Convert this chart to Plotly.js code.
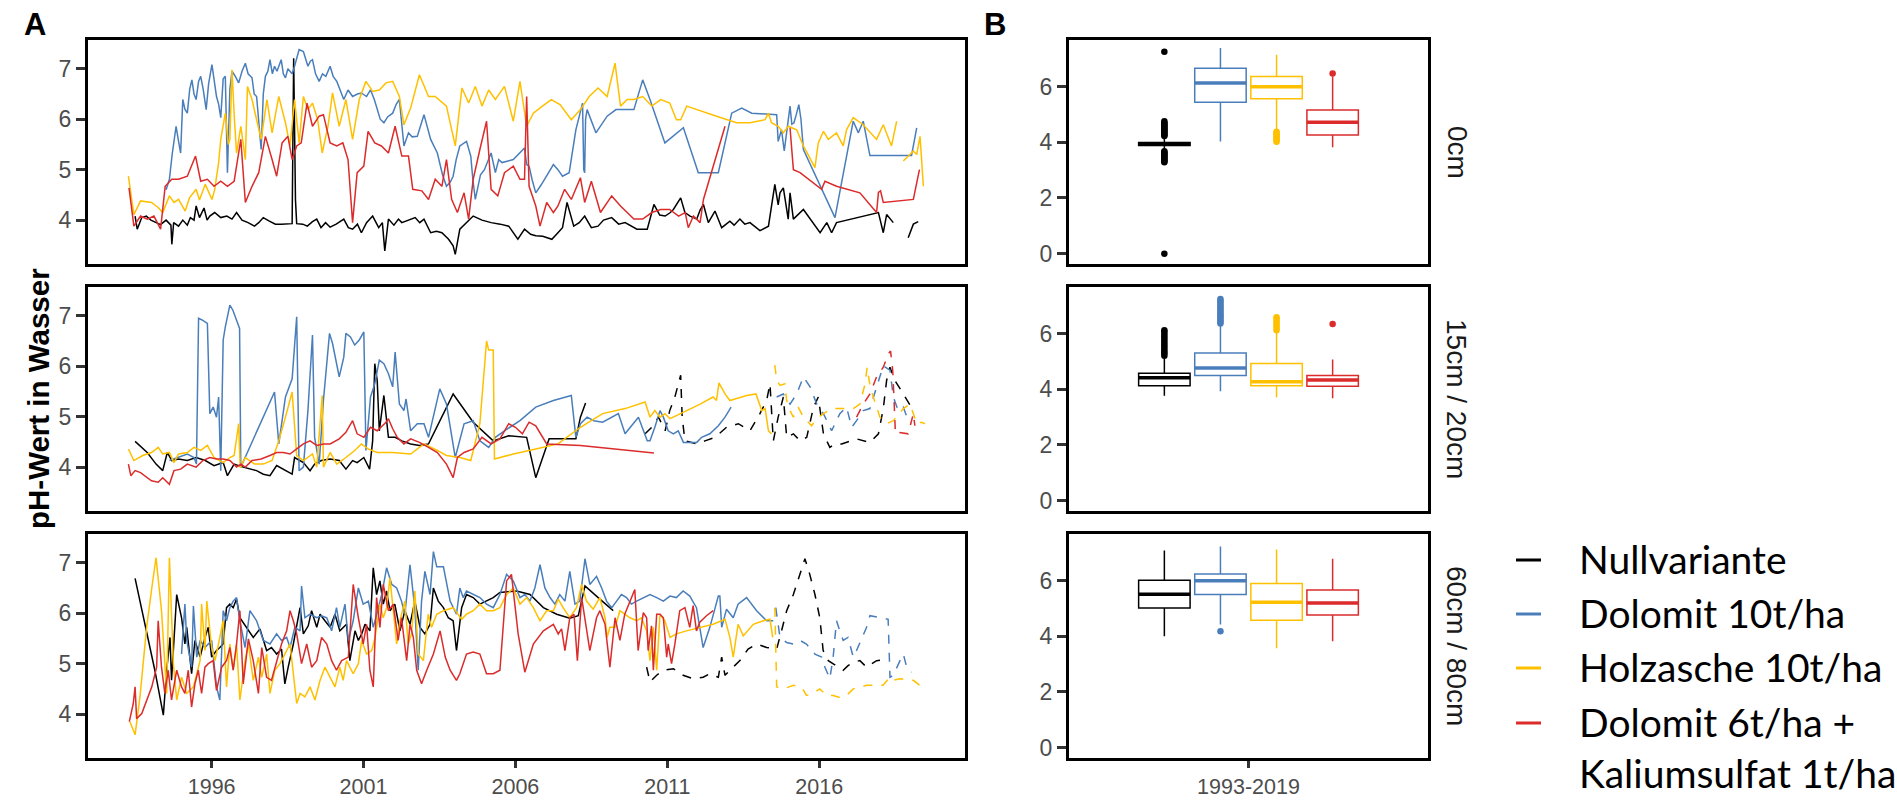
<!DOCTYPE html>
<html><head><meta charset="utf-8">
<script src="https://cdn.plot.ly/plotly-3.0.1.min.js"></script>
<style>html,body{margin:0;padding:0;background:#fff}#chart{width:1897px;height:800px}</style>
</head><body><div id="chart"></div>
<script>
// ---------- names / categories ----------
const treatments = ['Nullvariante','Dolomit 10t/ha','Holzasche 10t/ha','Dolomit 6t/ha +<br>Kaliumsulfat 1t/ha'];
const colors = ['#000000','#4A7EBB','#FFC000','#DB2B2B'];
const depths = ['0cm','15cm / 20cm','60cm / 80cm'];
const yearTicks = [1996,2001,2006,2011,2016];
const boxTick = ['1993-2019'];

// ---------- A: time series (decimal year, pH) ----------
// depth 0cm
const null_0 = [[1993.48,4.08],[1993.55,3.82],[1993.7,4.05],[1993.85,4.08],[1994.0,4.0],[1994.17,3.95],[1994.32,3.91],[1994.5,4.0],[1994.66,3.9],[1994.69,3.52],[1994.75,3.95],[1994.91,3.88],[1995.05,4.0],[1995.2,3.9],[1995.3,4.05],[1995.42,4.0],[1995.49,4.28],[1995.6,4.05],[1995.75,4.24],[1995.85,4.0],[1995.94,4.08],[1996.1,4.15],[1996.3,4.05],[1996.5,4.08],[1996.67,4.02],[1996.82,4.15],[1997.0,4.0],[1997.2,3.95],[1997.41,3.88],[1997.55,3.95],[1997.7,4.05],[1997.9,3.98],[1998.1,3.92],[1998.29,3.92],[1998.5,3.92],[1998.65,3.93],[1998.70,7.21],[1998.76,4.4],[1998.8,3.93],[1999.0,3.92],[1999.15,3.88],[1999.32,3.97],[1999.46,4.02],[1999.6,3.85],[1999.75,3.95],[1999.9,3.86],[2000.1,3.92],[2000.35,4.02],[2000.5,3.85],[2000.64,3.82],[2000.8,3.92],[2000.93,3.75],[2001.1,3.95],[2001.3,4.08],[2001.5,3.85],[2001.62,3.95],[2001.70,3.39],[2001.82,4.02],[2002.0,3.9],[2002.15,4.02],[2002.26,3.95],[2002.5,4.0],[2002.7,4.05],[2002.85,3.95],[2002.99,4.02],[2003.21,3.75],[2003.4,3.78],[2003.58,3.75],[2003.8,3.62],[2003.95,3.49],[2004.02,3.32],[2004.17,3.82],[2004.4,3.95],[2004.61,4.08],[2004.9,4.0],[2005.2,3.95],[2005.5,3.92],[2005.78,3.88],[2006.08,3.62],[2006.30,3.82],[2006.5,3.72],[2006.67,3.69],[2006.9,3.68],[2007.03,3.65],[2007.2,3.62],[2007.40,3.75],[2007.55,3.85],[2007.70,4.35],[2007.92,3.88],[2008.1,3.95],[2008.28,4.08],[2008.5,3.85],[2008.72,3.88],[2008.9,4.0],[2009.17,4.05],[2009.4,3.92],[2009.61,3.95],[2010.0,3.82],[2010.34,3.82],[2010.56,4.31],[2010.75,4.1],[2010.93,4.08],[2011.1,4.15],[2011.2,4.21],[2011.44,4.44],[2011.58,4.15],[2011.75,4.08],[2011.97,4.02],[2012.08,4.2],[2012.19,4.31],[2012.35,3.95],[2012.57,4.18],[2012.79,3.85],[2013.06,3.98],[2013.2,3.9],[2013.39,4.02],[2013.55,3.92],[2013.72,3.95],[2014.05,3.79],[2014.33,3.88],[2014.54,4.71],[2014.65,4.3],[2014.71,4.54],[2014.82,4.64],[2014.98,4.02],[2015.04,4.54],[2015.15,4.02],[2015.48,4.21],[2015.70,4.02],[2016.03,3.75],[2016.25,3.95],[2016.41,3.75],[2016.57,3.95],[2017.95,4.15],[2018.11,3.75],[2018.22,4.11],[2018.44,3.95],[null,null],[2018.93,3.65],[2019.10,3.92],[2019.26,3.97]];
const dolo_0 = [[1994.50,4.6],[1994.61,4.81],[1994.7,5.3],[1994.83,5.86],[1994.9,5.6],[1994.98,5.33],[1995.05,6.39],[1995.12,6.2],[1995.20,6.12],[1995.28,6.6],[1995.35,6.78],[1995.42,6.5],[1995.49,6.39],[1995.57,6.75],[1995.64,6.85],[1995.72,6.6],[1995.82,6.19],[1995.9,6.7],[1996.01,7.08],[1996.08,6.8],[1996.16,6.45],[1996.23,6.3],[1996.30,6.03],[1996.38,6.8],[1996.45,6.85],[1996.52,4.94],[1996.60,6.6],[1996.67,6.95],[1996.78,6.85],[1996.89,6.72],[1997.0,6.95],[1997.11,7.11],[1997.2,6.9],[1997.33,6.82],[1997.40,6.5],[1997.48,6.45],[1997.55,6.0],[1997.63,5.40],[1997.70,6.5],[1997.77,6.85],[1997.85,6.95],[1997.92,7.18],[1998.0,6.9],[1998.07,7.05],[1998.15,6.95],[1998.29,7.18],[1998.36,6.9],[1998.43,6.82],[1998.51,7.0],[1998.58,6.95],[1998.65,6.9],[1998.73,7.05],[1998.80,7.2],[1998.88,7.38],[1999.02,7.34],[1999.10,7.2],[1999.17,7.05],[1999.25,7.15],[1999.32,7.18],[1999.42,6.9],[1999.54,6.75],[1999.65,6.9],[1999.76,6.85],[1999.90,7.05],[2000.0,6.85],[2000.12,6.75],[2000.25,6.55],[2000.35,6.39],[2000.49,6.58],[2000.64,6.45],[2000.8,6.5],[2000.93,6.52],[2001.1,6.45],[2001.23,6.58],[2001.35,6.4],[2001.45,6.19],[2001.55,6.0],[2001.67,5.93],[2001.8,6.05],[2001.96,6.12],[2002.08,6.3],[2002.18,6.39],[2002.33,5.47],[2002.48,5.73],[2002.6,5.65],[2002.77,5.66],[2002.99,6.09],[2003.21,5.6],[2003.43,5.33],[2003.6,4.9],[2003.73,4.67],[2003.85,4.75],[2003.95,4.87],[2004.05,5.2],[2004.17,5.47],[2004.39,5.56],[2004.53,5.27],[2004.60,4.8],[2004.68,4.41],[2004.85,4.9],[2004.98,5.0],[2005.20,5.33],[2005.34,4.94],[2005.45,5.2],[2005.56,5.14],[2005.93,5.20],[2006.30,5.43],[2006.37,5.1],[2006.45,5.07],[2006.55,4.8],[2006.67,4.54],[2006.85,4.7],[2007.03,4.87],[2007.25,5.10],[2007.4,5.0],[2007.55,4.87],[2007.77,4.94],[2007.99,5.79],[2008.21,6.32],[2008.25,5.0],[2008.28,4.94],[2008.31,6.0],[2008.36,6.19],[2008.65,5.73],[2009.02,6.06],[2009.31,6.19],[2009.61,6.19],[2009.90,6.19],[2010.19,6.78],[2010.43,6.39],[2010.92,5.53],[2011.53,5.83],[2012.02,4.94],[2012.68,4.94],[2013.12,6.12],[2013.45,6.22],[2013.78,6.12],[2014.60,6.09],[2014.65,5.56],[2014.76,5.79],[2014.85,5.37],[2014.95,5.8],[2015.04,6.26],[2015.10,5.9],[2015.17,5.93],[2015.25,6.1],[2015.33,6.29],[2015.40,6.0],[2015.48,5.40],[2016.52,4.05],[2017.12,5.96],[2017.29,5.73],[2017.45,5.96],[2017.67,5.28],[2019.04,5.28],[2019.21,5.83]];
const holz_0 = [[1993.26,4.87],[1993.44,4.11],[1993.66,4.38],[1994.02,4.35],[1994.24,4.25],[1994.39,4.15],[1994.61,4.48],[1994.76,4.35],[1994.91,4.41],[1995.13,4.18],[1995.27,4.44],[1995.49,4.61],[1995.6,4.4],[1995.79,4.71],[1996.01,4.41],[1996.1,4.6],[1996.23,5.14],[1996.30,5.6],[1996.45,6.12],[1996.55,5.5],[1996.60,5.60],[1996.67,6.98],[1996.75,6.0],[1996.82,5.33],[1996.96,5.86],[1997.11,5.20],[1997.18,6.65],[1997.33,6.39],[1997.48,5.99],[1997.63,5.60],[1997.82,6.39],[1997.99,5.73],[1998.21,6.45],[1998.43,5.93],[1998.58,5.47],[1998.73,6.39],[1998.88,5.53],[1999.02,6.45],[1999.17,6.19],[1999.32,6.32],[1999.49,5.99],[1999.64,5.33],[1999.83,5.86],[1999.98,6.52],[2000.2,5.86],[2000.42,6.39],[2000.64,5.60],[2000.86,6.39],[2001.08,6.75],[2001.30,6.55],[2001.52,6.58],[2001.74,6.72],[2001.96,6.75],[2002.18,6.45],[2002.33,5.89],[2002.55,6.22],[2002.84,6.88],[2003.14,6.45],[2003.36,6.45],[2003.73,6.26],[2004.02,5.47],[2004.24,6.62],[2004.46,6.32],[2004.68,6.65],[2004.90,6.26],[2005.12,6.58],[2005.34,6.39],[2005.64,6.65],[2005.93,5.96],[2006.15,6.75],[2006.37,5.86],[2006.59,6.12],[2006.89,6.26],[2007.18,6.39],[2007.47,6.29],[2007.84,5.99],[2008.14,6.19],[2008.43,6.45],[2008.72,6.62],[2009.02,6.45],[2009.28,7.11],[2009.46,6.26],[2009.68,6.39],[2009.90,6.39],[2010.19,6.45],[2010.49,6.26],[2010.78,6.39],[2011.08,6.32],[2011.30,5.99],[2011.44,5.99],[2011.64,6.26],[2011.97,6.19],[2012.62,6.06],[2013.28,5.93],[2013.72,5.93],[2014.22,5.99],[2014.33,6.12],[2014.43,5.93],[2014.65,5.86],[2014.82,5.73],[2014.98,5.86],[2015.26,5.79],[2015.48,5.47],[2015.86,5.04],[2015.97,5.53],[2016.14,5.76],[2016.30,5.60],[2016.57,5.73],[2016.79,5.47],[2016.90,5.79],[2017.12,6.03],[2017.45,5.89],[2017.89,5.60],[2018.11,5.89],[2018.38,5.47],[2018.55,5.96],[null,null],[2018.77,5.17],[2019.10,5.37],[2019.21,5.3],[2019.32,5.66],[2019.43,4.67]];
const kali_0 = [[1993.28,4.64],[1993.44,3.88],[1993.66,4.08],[1993.88,4.02],[1994.10,4.08],[1994.32,3.82],[1994.47,4.67],[1994.69,4.81],[1994.91,4.81],[1995.20,4.87],[1995.47,5.27],[1995.64,4.77],[1995.86,4.81],[1996.08,4.67],[1996.30,4.77],[1996.52,4.67],[1996.74,4.77],[1996.96,5.60],[1997.11,4.35],[1997.33,4.67],[1997.55,4.94],[1997.77,5.66],[1997.99,5.20],[1998.14,4.87],[1998.32,5.53],[1998.51,5.66],[1998.65,5.20],[1998.80,5.47],[1998.95,5.53],[1999.14,6.32],[1999.32,5.86],[1999.54,6.06],[1999.68,6.09],[1999.90,5.53],[2000.12,5.47],[2000.32,5.53],[2000.49,5.20],[2000.64,3.95],[2000.79,4.94],[2001.01,5.07],[2001.15,5.76],[2001.37,5.53],[2001.59,5.47],[2001.82,5.33],[2002.04,5.86],[2002.26,5.27],[2002.48,5.27],[2002.62,4.61],[2002.92,4.58],[2003.14,4.41],[2003.36,4.81],[2003.58,4.67],[2003.73,5.20],[2003.90,4.41],[2004.09,4.15],[2004.31,4.54],[2004.46,4.02],[2004.61,4.81],[2004.83,5.40],[2005.05,5.96],[2005.20,4.61],[2005.42,4.48],[2005.64,4.94],[2005.93,5.07],[2006.15,4.81],[2006.30,4.81],[2006.37,6.45],[2006.45,4.67],[2006.67,4.28],[2006.81,3.88],[2007.03,4.35],[2007.25,4.15],[2007.40,4.28],[2007.62,4.61],[2007.84,4.41],[2008.14,4.84],[2008.28,4.35],[2008.50,4.77],[2008.80,4.15],[2009.17,4.48],[2009.46,4.28],[2009.90,4.02],[2010.19,4.02],[2010.49,4.15],[2010.78,4.21],[2011.08,4.21],[2011.37,4.08],[2011.59,4.15],[2011.69,3.85],[2011.86,4.08],[2012.08,3.95],[2012.19,4.41],[2012.90,5.86],[null,null],[2015.04,5.83],[2015.15,5.00],[2015.37,4.94],[2016.08,4.61],[2016.19,4.77],[2016.57,4.67],[2017.34,4.54],[2017.89,4.15],[2017.95,4.55],[2018.02,4.58],[2018.11,4.35],[2019.10,4.41],[2019.30,5.00]];

// depth 15cm / 20cm (the "b" arrays = later period, drawn dashed)
const null_1 = [[1993.48,4.51],[1993.88,4.29],[1994.17,4.06],[1994.39,3.93],[1994.54,4.29],[1994.69,4.13],[1994.91,4.16],[1995.20,4.13],[1995.49,4.19],[1995.79,4.13],[1996.08,4.03],[1996.38,4.09],[1996.52,3.83],[1996.74,4.06],[1997.04,4.0],[1997.26,3.96],[1997.48,3.93],[1997.70,3.86],[1997.92,3.83],[1998.14,4.03],[1998.43,3.93],[1998.65,3.86],[1998.73,4.19],[1999.02,4.09],[1999.24,3.93],[1999.39,4.06],[1999.61,4.13],[1999.90,4.16],[2000.20,4.13],[2000.42,3.96],[2000.64,4.13],[2000.79,4.09],[2001.01,4.19],[2001.20,3.96],[2001.30,4.52],[2001.37,6.05],[2001.45,5.72],[2001.52,4.72],[2001.67,5.42],[2001.82,4.59],[2002.04,4.59],[2002.26,4.52],[2002.55,4.46],[2002.84,4.43],[2003.14,4.46],[2003.95,5.45],[2004.61,4.89],[2005.27,4.52],[2005.78,4.62],[2006.37,4.59],[2006.67,3.79],[2007.11,4.56],[2007.55,4.56],[2007.99,4.56],[2008.14,4.99],[2008.31,5.27]];
const null_1b = [[2010.27,4.66],[2010.49,4.79],[2010.71,4.99],[2010.93,4.72],[2011.08,5.12],[2011.25,5.39],[2011.44,5.82],[2011.49,4.99],[2011.58,4.52],[2011.97,4.46],[2012.24,4.52],[2012.57,4.59],[2012.95,4.79],[2013.34,4.86],[2013.72,4.72],[2014.05,5.06],[2014.27,5.32],[2014.38,5.65],[2014.49,4.52],[2014.65,4.99],[2014.82,5.39],[2014.93,4.59],[2015.15,4.66],[2015.37,4.52],[2015.59,4.59],[2015.81,5.18],[2015.97,5.39],[2016.14,4.66],[2016.35,4.39],[2016.52,4.46],[2016.74,4.46],[2017.23,4.56],[2017.67,4.49],[2017.95,4.66],[2018.11,5.16],[2018.22,5.72],[2018.33,5.98],[2018.49,5.72],[2018.77,5.45],[2019.10,5.12]];
const dolo_1 = [[1994.61,4.13],[1994.91,4.2],[1995.20,4.26],[1995.42,4.19],[1995.50,4.06],[1995.57,6.95],[1995.71,6.91],[1995.86,6.85],[1995.94,5.06],[1996.05,5.19],[1996.16,4.99],[1996.23,5.39],[1996.30,3.93],[1996.38,6.52],[1996.45,6.78],[1996.60,7.21],[1996.70,7.11],[1996.82,6.91],[1996.92,6.75],[1996.96,4.00],[1998.07,5.49],[1998.21,4.46],[1998.43,5.39],[1998.65,5.75],[1998.80,6.98],[1998.88,3.93],[1999.02,4.00],[1999.17,5.12],[1999.32,6.62],[1999.39,4.59],[1999.54,4.06],[1999.68,5.32],[1999.88,6.65],[1999.98,6.45],[2000.20,5.79],[2000.35,6.18],[2000.42,6.65],[2000.57,6.58],[2000.71,6.42],[2000.86,6.52],[2001.01,6.68],[2001.08,4.33],[2001.23,5.39],[2001.37,5.65],[2001.52,6.12],[2001.67,6.05],[2001.82,5.85],[2001.96,5.59],[2002.04,6.28],[2002.18,5.25],[2002.33,5.12],[2002.40,5.35],[2002.55,4.72],[2002.77,4.86],[2002.99,4.86],[2003.14,4.59],[2003.51,5.55],[2003.73,5.25],[2004.02,4.19],[2004.31,4.86],[2004.61,4.92],[2004.83,4.52],[2005.12,4.39],[2005.34,4.59],[2005.64,4.72],[2006.15,4.92],[2006.67,5.19],[2007.25,5.32],[2007.84,5.42],[2007.99,4.59],[2008.14,4.86],[2008.36,4.99],[2008.58,4.92],[2008.87,4.89],[2009.39,5.06],[2009.61,4.66],[2010.05,4.99],[2010.34,4.52],[2010.43,4.52],[2010.59,4.79],[2010.76,5.12],[2010.87,4.99],[2011.03,4.72],[2011.20,4.66],[2011.36,4.72],[2011.53,4.49],[2011.97,4.49],[2012.13,4.59],[2012.40,4.66],[2012.68,4.82],[2012.90,4.99],[2013.10,5.19]];
const dolo_1b = [[2014.60,5.39],[2014.82,5.45],[2015.04,5.25],[2015.26,5.45],[2015.48,5.79],[2015.70,5.59],[2015.92,5.25],[2016.14,5.06],[2016.41,4.72],[2016.68,5.06],[2016.90,5.19],[2017.07,4.79],[2017.23,4.92],[2017.45,5.12],[2017.67,5.16],[2017.89,5.59],[2018.11,6.01],[2018.33,5.92],[2018.44,5.39],[2018.60,5.12],[2018.77,5.19],[2018.93,4.92]];
const holz_1 = [[1993.26,4.36],[1993.44,4.13],[1993.73,4.23],[1994.02,4.29],[1994.24,4.39],[1994.39,4.26],[1994.61,4.29],[1994.76,4.09],[1994.91,4.26],[1995.20,4.29],[1995.42,4.39],[1995.64,4.33],[1995.86,4.43],[1996.08,4.19],[1996.38,4.09],[1996.60,4.19],[1996.74,4.23],[1996.89,4.86],[1996.94,3.99],[1997.11,4.19],[1997.41,4.06],[1997.70,4.06],[1997.99,4.13],[1998.21,4.52],[1998.43,4.99],[1998.65,5.49],[1998.80,4.23],[1999.02,4.13],[1999.32,4.26],[1999.46,4.0],[1999.64,5.42],[1999.68,4.0],[1999.90,4.29],[2000.12,4.06],[2000.42,4.19],[2000.71,4.33],[2000.93,4.46],[2001.15,4.36],[2001.45,4.29],[2001.96,4.29],[2002.55,4.26],[2002.99,4.46],[2003.43,4.33],[2003.73,4.23],[2004.17,4.19],[2004.53,4.13],[2004.83,4.86],[2005.05,6.50],[2005.12,6.32],[2005.27,6.32],[2005.31,4.16],[2005.93,4.26],[2006.67,4.36],[2007.40,4.46],[2008.14,4.79],[2008.87,5.06],[2009.61,5.16],[2010.27,5.29],[2010.43,4.99],[2010.59,5.12],[2010.76,4.99],[2010.92,5.06],[2011.09,4.96],[2011.31,5.02],[2011.64,5.12],[2012.08,5.25],[2012.51,5.39],[2012.62,5.32],[2012.70,5.67],[2012.90,5.45],[2013.06,5.32],[2013.23,5.35],[2013.61,5.42],[2013.92,5.45],[2014.11,5.12],[2014.22,5.16],[2014.33,4.72],[2014.43,4.66]];
const holz_1b = [[2014.54,6.02],[2014.60,5.72],[2014.71,5.62],[2014.87,5.65],[2014.93,5.32],[2015.04,5.12],[2015.15,4.99],[2015.31,5.19],[2015.48,4.99],[2015.64,4.89],[2015.75,4.82],[2015.92,4.96],[2016.14,5.06],[2016.41,5.16],[2016.68,5.16],[2016.90,5.16],[2017.12,5.16],[2017.34,5.25],[2017.51,5.65],[2017.58,5.98],[2017.67,5.62],[2017.78,5.39],[2018.00,4.99],[2018.22,4.86],[2018.44,4.92],[2018.77,5.16],[2018.99,5.25],[2019.10,5.06],[2019.21,4.86],[2019.37,4.89],[2019.48,4.86]];
const kali_1 = [[1993.26,4.06],[1993.34,3.83],[1993.48,3.93],[1993.66,3.89],[1994.02,3.73],[1994.24,3.70],[1994.39,3.79],[1994.61,3.66],[1994.76,3.93],[1994.98,3.96],[1995.20,4.06],[1995.49,4.0],[1995.71,4.13],[1995.94,4.19],[1996.16,4.16],[1996.38,4.16],[1996.60,4.13],[1996.82,4.0],[1996.96,4.06],[1997.11,4.0],[1997.33,4.13],[1997.63,4.16],[1997.92,4.23],[1998.14,4.29],[1998.36,4.29],[1998.58,4.26],[1998.80,4.36],[1999.02,4.46],[1999.24,4.52],[1999.46,4.43],[1999.68,4.46],[1999.90,4.46],[2000.20,4.56],[2000.42,4.69],[2000.64,4.92],[2000.79,4.66],[2001.01,4.59],[2001.23,4.79],[2001.45,4.72],[2001.74,4.89],[2001.82,4.96],[2001.96,4.76],[2002.11,4.59],[2002.33,4.46],[2002.55,4.56],[2002.84,4.49],[2003.14,4.39],[2003.43,4.29],[2003.73,4.06],[2003.95,3.79],[2004.09,4.19],[2004.31,4.29],[2004.61,4.36],[2004.90,4.59],[2005.20,4.46],[2005.49,4.56],[2005.78,4.86],[2006.00,4.79],[2006.23,4.66],[2006.45,4.89],[2006.67,4.82],[2007.03,4.46],[2008.14,4.43],[2009.61,4.34],[2010.56,4.28]];
const kali_1b = [[2017.23,4.99],[2017.45,5.25],[2017.67,5.45],[2017.89,5.79],[2018.11,5.98],[2018.28,6.25],[2018.35,6.30],[2018.42,5.92],[2018.46,5.39],[2018.51,4.66],[2018.60,4.69],[2018.77,4.67],[2018.93,4.66],[2019.10,5.06],[2019.15,4.82]];

// depth 60cm / 80cm
const null_2 = [[1993.48,6.69],[1993.86,5.65],[1994.13,4.87],[1994.41,3.98],[1994.52,4.87],[1994.63,5.52],[1994.68,4.67],[1994.74,5.26],[1994.85,6.37],[1995.01,5.91],[1995.12,5.39],[1995.18,5.72],[1995.34,4.80],[1995.45,5.46],[1995.62,5.13],[1995.78,5.52],[1995.89,5.72],[1996.00,5.13],[1996.16,5.26],[1996.27,5.32],[1996.38,5.39],[1996.49,6.11],[1996.60,6.18],[1996.71,6.11],[1996.82,6.28],[1996.93,5.91],[1997.15,5.72],[1997.37,5.52],[1997.59,5.69],[1997.81,5.26],[1997.97,5.32],[1998.14,5.19],[1998.30,5.29],[1998.41,4.60],[1998.52,4.93],[1998.69,5.39],[1998.91,6.11],[1999.02,5.59],[1999.18,5.75],[1999.29,6.05],[1999.46,5.72],[1999.57,5.98],[1999.73,5.85],[1999.90,5.72],[2000.06,5.98],[2000.22,5.65],[2000.44,5.78],[2000.55,5.06],[2000.72,5.65],[2000.83,5.46],[2000.94,5.59],[2001.05,5.78],[2001.21,5.65],[2001.32,6.90],[2001.43,6.37],[2001.54,6.64],[2001.65,6.18],[2001.76,6.44],[2001.87,6.05],[2002.03,6.18],[2002.20,5.65],[2002.36,6.05],[2002.53,5.78],[2002.69,6.24],[2002.86,5.72],[2003.02,5.59],[2003.19,5.78],[2003.30,6.50],[2003.46,6.24],[2003.63,6.11],[2003.79,5.91],[2003.95,5.85],[2004.06,5.26],[2004.23,6.11],[2004.39,6.37],[2004.61,6.31],[2004.83,6.18],[2005.05,6.24],[2005.27,6.31],[2005.49,6.41],[2006.04,6.44],[2006.48,6.37],[2006.92,6.11],[2007.36,5.98],[2007.79,5.90],[2008.07,5.95],[2008.29,6.54],[2008.78,6.28],[2009.22,6.05]];
const null_2b = [[2010.32,4.93],[2010.43,4.64],[2010.65,4.77],[2010.87,4.87],[2011.20,4.90],[2011.52,4.77],[2011.85,4.70],[2012.18,4.73],[2012.40,4.80],[2012.68,4.73],[2012.79,5.13],[2012.90,4.77],[2013.06,4.87],[2013.39,5.06],[2013.66,5.29],[2013.94,5.39],[2014.27,5.32],[2014.60,5.29],[2014.76,5.65],[2014.93,6.05],[2015.15,6.37],[2015.37,6.77],[2015.53,7.08],[2015.69,6.77],[2015.86,6.37],[2016.02,5.91],[2016.13,5.26],[2016.30,5.06],[2016.46,5.00],[2016.63,4.93],[2016.79,4.87],[2016.95,4.96],[2017.12,5.03],[2017.34,5.06],[2017.56,4.93],[2017.89,5.06],[2018.22,5.08]];
const dolo_2 = [[1995.01,5.19],[1995.12,6.18],[1995.18,5.46],[1995.34,4.93],[1995.40,6.14],[1995.51,5.13],[1995.62,5.46],[1995.78,5.32],[1996.00,5.46],[1996.16,4.54],[1996.27,4.28],[1996.38,6.05],[1996.49,5.85],[1996.60,6.11],[1996.71,6.24],[1996.82,6.31],[1996.93,5.85],[1997.10,5.32],[1997.26,6.05],[1997.48,5.85],[1997.70,5.46],[1997.92,5.39],[1998.14,5.59],[1998.30,5.46],[1998.47,5.52],[1998.58,5.32],[1998.74,5.72],[1998.91,5.65],[1998.96,6.54],[1999.07,5.91],[1999.24,5.98],[1999.46,5.91],[1999.62,5.95],[1999.79,5.91],[1999.95,5.65],[2000.11,6.11],[2000.22,5.72],[2000.39,6.18],[2000.50,5.46],[2000.66,5.85],[2000.83,6.50],[2000.99,6.18],[2001.16,6.24],[2001.32,5.72],[2001.49,6.11],[2001.60,6.37],[2001.76,6.90],[2001.93,6.57],[2002.09,6.50],[2002.25,6.24],[2002.36,5.98],[2002.53,6.96],[2002.69,6.08],[2002.80,4.87],[2002.91,6.24],[2003.02,6.83],[2003.19,6.37],[2003.30,7.22],[2003.41,6.92],[2003.63,6.92],[2003.85,6.24],[2004.06,5.98],[2004.17,6.50],[2004.28,6.31],[2004.39,6.44],[2004.61,6.37],[2004.83,6.31],[2005.05,6.18],[2005.27,6.11],[2005.49,6.37],[2005.71,6.77],[2005.93,6.64],[2006.15,6.31],[2006.31,6.37],[2006.48,6.24],[2006.64,6.50],[2006.81,6.96],[2006.97,6.50],[2007.14,6.31],[2007.30,6.18],[2007.46,6.37],[2007.63,6.24],[2007.79,6.83],[2007.96,6.18],[2008.12,6.24],[2008.29,7.08],[2008.45,6.57],[2008.67,6.73],[2008.84,6.50],[2009.00,6.24],[2009.17,6.11],[2009.33,6.24],[2009.49,6.37],[2009.66,6.31],[2009.82,6.18],[2009.99,6.24],[2010.21,6.31],[2010.43,6.37],[2010.65,6.31],[2010.87,6.24],[2011.09,6.34],[2011.30,6.31],[2011.52,6.44],[2011.74,6.34],[2011.96,6.11],[2012.18,5.32],[2012.40,5.72],[2012.68,6.34],[2012.73,6.34],[2012.79,5.72],[2012.95,6.08],[2013.17,5.91],[2013.33,6.18],[2013.61,6.31],[2013.94,6.05],[2014.27,5.85],[2014.49,5.85]];
const dolo_2b = [[2014.57,6.11],[2014.71,5.52],[2014.93,5.42],[2015.15,5.39],[2015.37,5.46],[2015.58,5.39],[2015.86,5.19],[2016.08,5.13],[2016.19,4.93],[2016.35,4.70],[2016.46,5.13],[2016.57,5.85],[2016.68,5.65],[2016.79,5.46],[2016.95,5.52],[2017.12,5.13],[2017.23,5.26],[2017.39,5.49],[2017.56,5.72],[2017.67,5.95],[2017.99,5.91],[2018.27,5.88],[2018.33,4.73],[2018.44,4.77],[2018.66,5.06],[2018.77,5.19],[2018.88,4.93],[2019.04,4.83]];
const holz_2 = [[1993.31,3.85],[1993.48,3.59],[1993.64,4.34],[1993.86,5.72],[1994.03,6.50],[1994.17,7.10],[1994.35,6.05],[1994.52,4.41],[1994.61,7.10],[1994.74,5.00],[1994.85,4.28],[1995.01,4.73],[1995.18,4.41],[1995.40,4.54],[1995.62,5.06],[1995.67,6.18],[1995.78,5.26],[1995.84,6.24],[1996.00,5.32],[1996.11,5.06],[1996.27,5.52],[1996.38,5.85],[1996.49,4.54],[1996.60,5.39],[1996.71,4.87],[1996.82,5.39],[1996.93,4.28],[1997.10,5.06],[1997.21,5.39],[1997.37,4.67],[1997.54,5.13],[1997.65,4.73],[1997.81,5.19],[1997.92,4.41],[1998.08,4.87],[1998.25,5.00],[1998.41,5.19],[1998.58,5.39],[1998.80,4.21],[1998.91,4.41],[1999.07,4.34],[1999.24,4.54],[1999.40,4.28],[1999.57,4.67],[1999.73,4.93],[1999.90,4.73],[2000.06,4.54],[2000.22,4.93],[2000.33,4.67],[2000.44,5.06],[2000.66,4.80],[2000.83,5.00],[2000.94,5.46],[2001.10,5.19],[2001.27,5.26],[2001.38,5.52],[2001.54,6.18],[2001.65,5.91],[2001.76,6.11],[2001.87,6.70],[2001.98,6.05],[2002.09,5.39],[2002.20,5.85],[2002.36,6.24],[2002.47,5.39],[2002.58,5.59],[2002.69,6.44],[2002.80,5.19],[2002.97,5.06],[2003.13,5.98],[2003.24,5.72],[2003.41,5.98],[2003.63,6.05],[2003.95,6.11],[2004.23,5.88],[2004.39,5.98],[2004.61,6.05],[2004.83,6.18],[2005.05,6.05],[2005.27,6.05],[2005.49,6.11],[2005.71,6.37],[2005.93,6.50],[2006.15,6.18],[2006.37,6.31],[2006.59,6.11],[2006.81,5.85],[2007.03,6.05],[2007.25,6.05],[2007.41,6.28],[2007.57,6.11],[2007.79,5.91],[2008.01,6.11],[2008.18,6.57],[2008.34,6.24],[2008.56,6.08],[2008.78,6.31],[2008.95,5.91],[2009.02,5.52],[2009.11,5.72],[2009.28,5.72],[2009.44,6.05],[2009.60,5.98],[2009.77,5.91],[2009.99,5.85],[2010.15,5.91],[2010.32,5.65],[2010.43,5.06],[2010.54,5.72],[2010.65,4.87],[2010.76,5.98],[2010.92,5.85],[2011.09,5.52],[2011.30,5.59],[2011.63,5.65],[2012.07,5.72],[2012.51,5.78],[2012.90,5.88],[2013.06,5.52],[2013.17,5.13],[2013.33,5.78],[2013.50,5.55],[2013.83,5.78],[2014.16,5.85],[2014.38,5.88],[2014.47,5.52]];
const holz_2b = [[2014.54,6.11],[2014.60,4.54],[2014.82,4.50],[2015.15,4.57],[2015.42,4.54],[2015.58,4.37],[2015.80,4.41],[2016.02,4.50],[2016.24,4.37],[2016.46,4.37],[2016.68,4.33],[2016.90,4.37],[2017.12,4.50],[2017.34,4.54],[2017.56,4.57],[2017.89,4.57],[2018.10,4.57],[2018.33,4.73],[2018.44,4.67],[2018.66,4.70],[2019.10,4.67],[2019.37,4.54]];
const kali_2 = [[1993.29,3.85],[1993.42,4.21],[1993.48,4.54],[1993.53,3.91],[1993.70,4.01],[1993.86,4.28],[1994.03,4.54],[1994.19,4.93],[1994.24,5.85],[1994.35,4.93],[1994.46,4.41],[1994.57,4.87],[1994.68,4.28],[1994.85,4.87],[1995.01,4.54],[1995.12,4.41],[1995.23,4.87],[1995.34,4.14],[1995.45,4.60],[1995.56,4.87],[1995.67,4.41],[1995.78,4.93],[1995.89,5.00],[1996.05,5.06],[1996.16,4.47],[1996.33,4.93],[1996.49,5.06],[1996.60,5.32],[1996.71,4.87],[1996.82,5.39],[1996.93,6.05],[1997.04,4.60],[1997.21,5.49],[1997.37,5.06],[1997.54,4.41],[1997.65,5.32],[1997.81,4.73],[1997.97,4.67],[1998.14,5.06],[1998.30,5.39],[1998.47,5.65],[1998.58,6.05],[1998.69,5.85],[1998.80,5.59],[1998.96,5.00],[1999.13,5.39],[1999.29,4.93],[1999.46,5.06],[1999.62,5.52],[1999.79,5.39],[1999.95,5.06],[2000.11,4.87],[2000.28,5.06],[2000.50,5.13],[2000.66,6.57],[2000.83,5.91],[2000.99,5.39],[2001.10,5.78],[2001.21,4.87],[2001.32,4.54],[2001.43,6.31],[2001.54,5.72],[2001.65,6.57],[2001.82,6.05],[2001.98,6.18],[2002.14,5.46],[2002.25,5.91],[2002.42,5.06],[2002.53,5.78],[2002.64,5.52],[2002.75,4.87],[2002.91,4.60],[2003.08,4.87],[2003.30,5.19],[2003.52,5.65],[2003.69,5.13],[2003.85,4.87],[2004.06,4.67],[2004.17,4.80],[2004.39,5.19],[2004.61,5.23],[2004.83,5.19],[2005.05,4.80],[2005.27,4.80],[2005.49,4.87],[2005.71,6.64],[2005.87,6.77],[2005.98,6.24],[2006.09,5.59],[2006.31,4.83],[2006.59,5.39],[2006.92,5.65],[2007.25,5.78],[2007.41,5.59],[2007.52,5.69],[2007.63,5.26],[2007.79,5.91],[2007.93,5.98],[2008.04,5.06],[2008.18,6.31],[2008.29,5.91],[2008.45,5.26],[2008.67,5.91],[2008.78,6.05],[2008.95,5.78],[2009.11,4.93],[2009.28,5.91],[2009.44,5.46],[2009.60,5.98],[2009.77,6.24],[2009.93,6.47],[2010.04,5.26],[2010.21,6.01],[2010.32,5.91],[2010.37,5.26],[2010.48,5.75],[2010.54,4.87],[2010.65,5.98],[2010.76,5.98],[2010.87,5.91],[2010.98,5.13],[2011.03,5.39],[2011.14,5.00],[2011.25,5.39],[2011.41,6.05],[2011.58,6.11],[2011.74,5.72],[2011.85,6.15],[2011.96,5.65],[2012.07,5.82],[2012.29,5.95],[2012.51,6.05]];

// ---------- B: box statistics per depth: [lower whisker, q1, median, q3, upper whisker] ----------
const box_0 = [[3.73,3.88,3.95,3.99,4.18],[4.03,5.44,6.13,6.66,7.38],[4.42,5.56,5.99,6.36,7.14],[3.82,4.26,4.72,5.16,6.36]];
const box_1 = [[3.77,4.13,4.41,4.57,5.10],[3.93,4.49,4.76,5.30,6.30],[3.71,4.13,4.27,4.92,6.06],[3.68,4.11,4.33,4.49,5.07]];
const box_2 = [[4.00,5.01,5.51,6.01,7.08],[4.42,5.50,5.99,6.23,7.22],[3.57,4.57,5.22,5.89,7.11],[3.82,4.76,5.19,5.66,6.78]];
const out_0 = [[7.25,4.75,4.7,4.66,4.62,4.58,4.54,4.5,4.46,4.42,4.38,4.34,4.3,4.26,4.22,3.68,3.64,3.6,3.56,3.52,3.48,3.44,3.4,3.36,3.32,3.28,0],[],[4.38,4.32,4.27,4.22,4.17,4.12,4.07,4.02],[6.47]];
const out_1 = [[5.2,5.28,5.35,5.42,5.5,5.58,5.66,5.74,5.82,5.9,5.98,6.06,6.12],[6.36,6.42,6.48,6.54,6.6,6.66,6.72,6.78,6.85,6.92,6.98,7.05,7.12,7.18,7.24],[6.12,6.2,6.28,6.36,6.44,6.52,6.58],[6.34]];
const out_2 = [[],[4.18],[],[]];

// ---------- build ----------
const solid = [[null_0,dolo_0,holz_0,kali_0],[null_1,dolo_1,holz_1,kali_1],[null_2,dolo_2,holz_2,kali_2]];
const dashed = [[[],[],[],[]],[null_1b,dolo_1b,holz_1b,kali_1b],[null_2b,dolo_2b,holz_2b,[]]];
const boxes = [box_0,box_1,box_2];
const outs = [out_0,out_1,out_2];

const W = 1897, H = 800;
const px = v => v / W, py = v => 1 - v / H;
const rowsPx = [[40,264],[287,511],[534,758]];
const aDom = [px(88), px(965)];
const bDom = [px(1069), px(1428)];

const traces = [];
const col = (arr, i) => arr.map(p => p[i]);
for (let r = 0; r < 3; r++) {
  const xa = 'x' + (r === 0 ? '' : r + 1), ya = 'y' + (r === 0 ? '' : r + 1);
  for (let t = 0; t < 4; t++) {
    traces.push({type:'scatter', mode:'lines', x: col(solid[r][t],0), y: col(solid[r][t],1),
      xaxis: xa, yaxis: ya, name: treatments[t], legendgroup: 'g'+t, showlegend: false,
      line: {color: colors[t], width: 1.5}, connectgaps: false, hoverinfo: 'skip'});
    if (dashed[r][t].length) {
      traces.push({type:'scatter', mode:'lines', x: col(dashed[r][t],0), y: col(dashed[r][t],1),
        xaxis: xa, yaxis: ya, name: treatments[t], legendgroup: 'g'+t, showlegend: false,
        line: {color: colors[t], width: 1.5, dash: 'dash'}, hoverinfo: 'skip'});
    }
  }
}
// boxes
const slot = 0.75 / 4, bw = 0.172;
for (let r = 0; r < 3; r++) {
  const xa = 'x' + (r + 4), ya = 'y' + (r + 4);
  for (let t = 0; t < 4; t++) {
    const pos = (t - 1.5) * slot;
    const s = boxes[r][t];
    traces.push({type:'box', x:[pos], lowerfence:[s[0]], q1:[s[1]], median:[s[2]], q3:[s[3]], upperfence:[s[4]],
      width: bw, whiskerwidth: 0, boxpoints: false, fillcolor: 'rgba(255,255,255,0)', name: treatments[t],
      line: {color: colors[t], width: 1.5}, xaxis: xa, yaxis: ya, showlegend: false, legendgroup:'g'+t, hoverinfo:'skip'});
    traces.push({type:'scatter', mode:'lines', x:[pos - bw/2, pos + bw/2], y:[s[2], s[2]],
      line:{color: colors[t], width: 3.5}, xaxis: xa, yaxis: ya, showlegend:false, hoverinfo:'skip'});
    if (outs[r][t].length) {
      traces.push({type:'scatter', mode:'markers', x: outs[r][t].map(() => pos), y: outs[r][t],
        marker:{color: colors[t], size: 6.5}, xaxis: xa, yaxis: ya, showlegend:false, hoverinfo:'skip'});
    }
  }
}

const tickFont = {family: 'Liberation Sans, Arial, sans-serif', size: 23, color: '#4D4D4D'};
const xTickFont = {family: 'Liberation Sans, Arial, sans-serif', size: 21.5, color: '#4D4D4D'};
const frame = {showline: true, mirror: true, linewidth: 3, linecolor: '#000', showgrid: false, zeroline: false};
const layout = {
  width: W, height: H, margin: {l:0, r:0, t:0, b:0}, paper_bgcolor: '#fff', plot_bgcolor: '#fff',
  showlegend: false, annotations: [], shapes: [],
  font: {family: 'Liberation Sans, Arial, sans-serif'}
};
for (let r = 0; r < 3; r++) {
  const dom = [py(rowsPx[r][1]), py(rowsPx[r][0])];
  const s = r === 0 ? '' : String(r + 1);
  layout['xaxis' + s] = Object.assign({}, frame, {domain: aDom, anchor: 'y' + s, range: [1991.93, 2020.80],
    tickvals: yearTicks, ticks: r === 2 ? 'outside' : '', showticklabels: r === 2, ticklen: 7, tickwidth: 3, tickcolor: '#333', tickfont: xTickFont});
  layout['yaxis' + s] = Object.assign({}, frame, {domain: dom, anchor: 'x' + s, range: [3.13, 7.57],
    tickvals: [4,5,6,7], ticks: 'outside', ticklen: 9, tickwidth: 3, tickcolor: '#333', tickfont: tickFont});
  const b = String(r + 4);
  layout['xaxis' + b] = Object.assign({}, frame, {domain: bDom, anchor: 'y' + b, range: [-0.6, 0.6],
    tickvals: [0], ticktext: boxTick, ticks: r === 2 ? 'outside' : '', showticklabels: r === 2, ticklen: 7, tickwidth: 3, tickcolor: '#333', tickfont: xTickFont});
  layout['yaxis' + b] = Object.assign({}, frame, {domain: dom, anchor: 'x' + b, range: [-0.37, 7.67],
    tickvals: [0,2,4,6], ticks: 'outside', ticklen: 9, tickwidth: 3, tickcolor: '#333', tickfont: tickFont});
  layout.annotations.push({text: depths[r], textangle: 90, x: px(1457), y: py((rowsPx[r][0] + rowsPx[r][1]) / 2),
    xref: 'paper', yref: 'paper', xanchor: 'center', yanchor: 'middle', showarrow: false,
    font: {family: 'Liberation Sans, Arial, sans-serif', size: 28, color: '#1A1A1A'}});
}
layout.annotations.push({text: '<b>A</b>', x: px(35), y: py(24), xref:'paper', yref:'paper', showarrow:false,
  xanchor:'center', yanchor:'middle', font:{family:'Liberation Sans, Arial, sans-serif', size:31, color:'#000'}});
layout.annotations.push({text: '<b>B</b>', x: px(995), y: py(24), xref:'paper', yref:'paper', showarrow:false,
  xanchor:'center', yanchor:'middle', font:{family:'Liberation Sans, Arial, sans-serif', size:31, color:'#000'}});
layout.annotations.push({text: '<b>pH-Wert in Wasser</b>', textangle: -90, x: px(38), y: py(399), xref:'paper', yref:'paper', showarrow:false,
  xanchor:'center', yanchor:'middle', font:{family:'Liberation Sans, Arial, sans-serif', size:29.5, color:'#000'}});

// legend (key lines + labels)
const legendRows = [560, 614, 668, 723];
for (let t = 0; t < 4; t++) {
  layout.shapes.push({type:'line', xref:'paper', yref:'paper', x0: px(1516), x1: px(1541), y0: py(legendRows[t]), y1: py(legendRows[t]),
    line:{color: colors[t], width: 3}});
  layout.annotations.push({text: treatments[t], x: px(1577), y: py(legendRows[t] - 26), xref:'paper', yref:'paper', showarrow:false,
    xanchor:'left', yanchor:'top', align:'left', font:{family:'Lato, sans-serif', size:39, color:'#000'}});
}

Plotly.newPlot('chart', traces, layout, {displayModeBar: false, staticPlot: true});
</script></body></html>
